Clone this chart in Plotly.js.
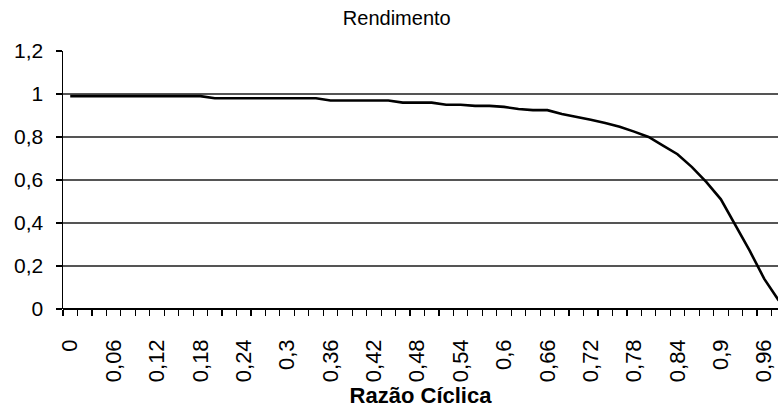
<!DOCTYPE html>
<html>
<head>
<meta charset="utf-8">
<script src="https://cdn.plot.ly/plotly-3.0.1.min.js"></script>
<style>
  body { margin: 0; background: #fff; }
  #chart { width: 778px; height: 410px; }
</style>
</head>
<body>
<div id="chart"></div>
<script>
// Razão cíclica (duty cycle) categories
var razao = [0, 0.02, 0.04, 0.06, 0.08, 0.1, 0.12, 0.14, 0.16, 0.18,
             0.2, 0.22, 0.24, 0.26, 0.28, 0.3, 0.32, 0.34, 0.36, 0.38,
             0.4, 0.42, 0.44, 0.46, 0.48, 0.5, 0.52, 0.54, 0.56, 0.58,
             0.6, 0.62, 0.64, 0.66, 0.68, 0.7, 0.72, 0.74, 0.76, 0.78,
             0.8, 0.82, 0.84, 0.86, 0.88, 0.9, 0.92, 0.94, 0.96, 0.98];

// Rendimento (efficiency)
var rendimento = [0.99, 0.99, 0.99, 0.99, 0.99, 0.99, 0.99, 0.99, 0.99, 0.99,
                  0.98, 0.98, 0.98, 0.98, 0.98, 0.98, 0.98, 0.98, 0.97, 0.97,
                  0.97, 0.97, 0.97, 0.96, 0.96, 0.96, 0.95, 0.95, 0.945, 0.945,
                  0.94, 0.93, 0.925, 0.925, 0.907, 0.895, 0.88, 0.865, 0.848, 0.825,
                  0.80, 0.76, 0.72, 0.66, 0.59, 0.51, 0.39, 0.27, 0.14, 0.04];

// labelled categories on the x axis
var xTickVals = [0, 0.06, 0.12, 0.18, 0.24, 0.3, 0.36, 0.42, 0.48, 0.54,
                 0.6, 0.66, 0.72, 0.78, 0.84, 0.9, 0.96];
var xTickText = ["0", "0,06", "0,12", "0,18", "0,24", "0,3", "0,36", "0,42", "0,48", "0,54",
                 "0,6", "0,66", "0,72", "0,78", "0,84", "0,9", "0,96"];

var trace = {
  x: razao,
  y: rendimento,
  type: "scatter",
  mode: "lines",
  line: { color: "#000", width: 2.6 },
  hoverinfo: "x+y"
};

var layout = {
  width: 778,
  height: 410,
  margin: { l: 63, r: 0, t: 51, b: 101 },
  paper_bgcolor: "#fff",
  plot_bgcolor: "#fff",
  separators: ",.",
  showlegend: false,
  font: { family: "Liberation Sans, Arial, sans-serif", color: "#000", size: 21 },
  title: {
    text: "Rendimento",
    font: { size: 20, color: "#000" },
    xref: "container",
    x: 0.51,
    xanchor: "center",
    yref: "container",
    y: 0.955,
    yanchor: "middle"
  },
  xaxis: {
    range: [-0.01, 0.979],
    tickmode: "array",
    tickvals: xTickVals,
    ticktext: xTickText,
    tickangle: -90,
    ticks: "",
    ticklabelstandoff: 25,
    tickfont: { size: 22 },
    minor: { tick0: -0.01, dtick: 0.02, ticks: "outside", ticklen: 6, tickcolor: "#000", tickwidth: 1.2, showgrid: false },
    showgrid: false,
    zeroline: false,
    showline: false,
    title: { text: "<b>Razão Cíclica</b>", font: { size: 22, color: "#000" }, standoff: 6 }
  },
  yaxis: {
    range: [0, 1.2],
    dtick: 0.2,
    tick0: 0,
    ticks: "outside",
    ticklen: 6,
    tickcolor: "#000",
    tickwidth: 1.2,
    ticklabelstandoff: 8,
    tickfont: { size: 21 },
    showgrid: true,
    gridcolor: "#555",
    gridwidth: 1.2,
    zeroline: true,
    zerolinecolor: "#000",
    zerolinewidth: 1.5,
    showline: true,
    linecolor: "#000",
    linewidth: 1.5
  }
};

Plotly.newPlot("chart", [trace], layout, { displayModeBar: false, staticPlot: true });
</script>
</body>
</html>
